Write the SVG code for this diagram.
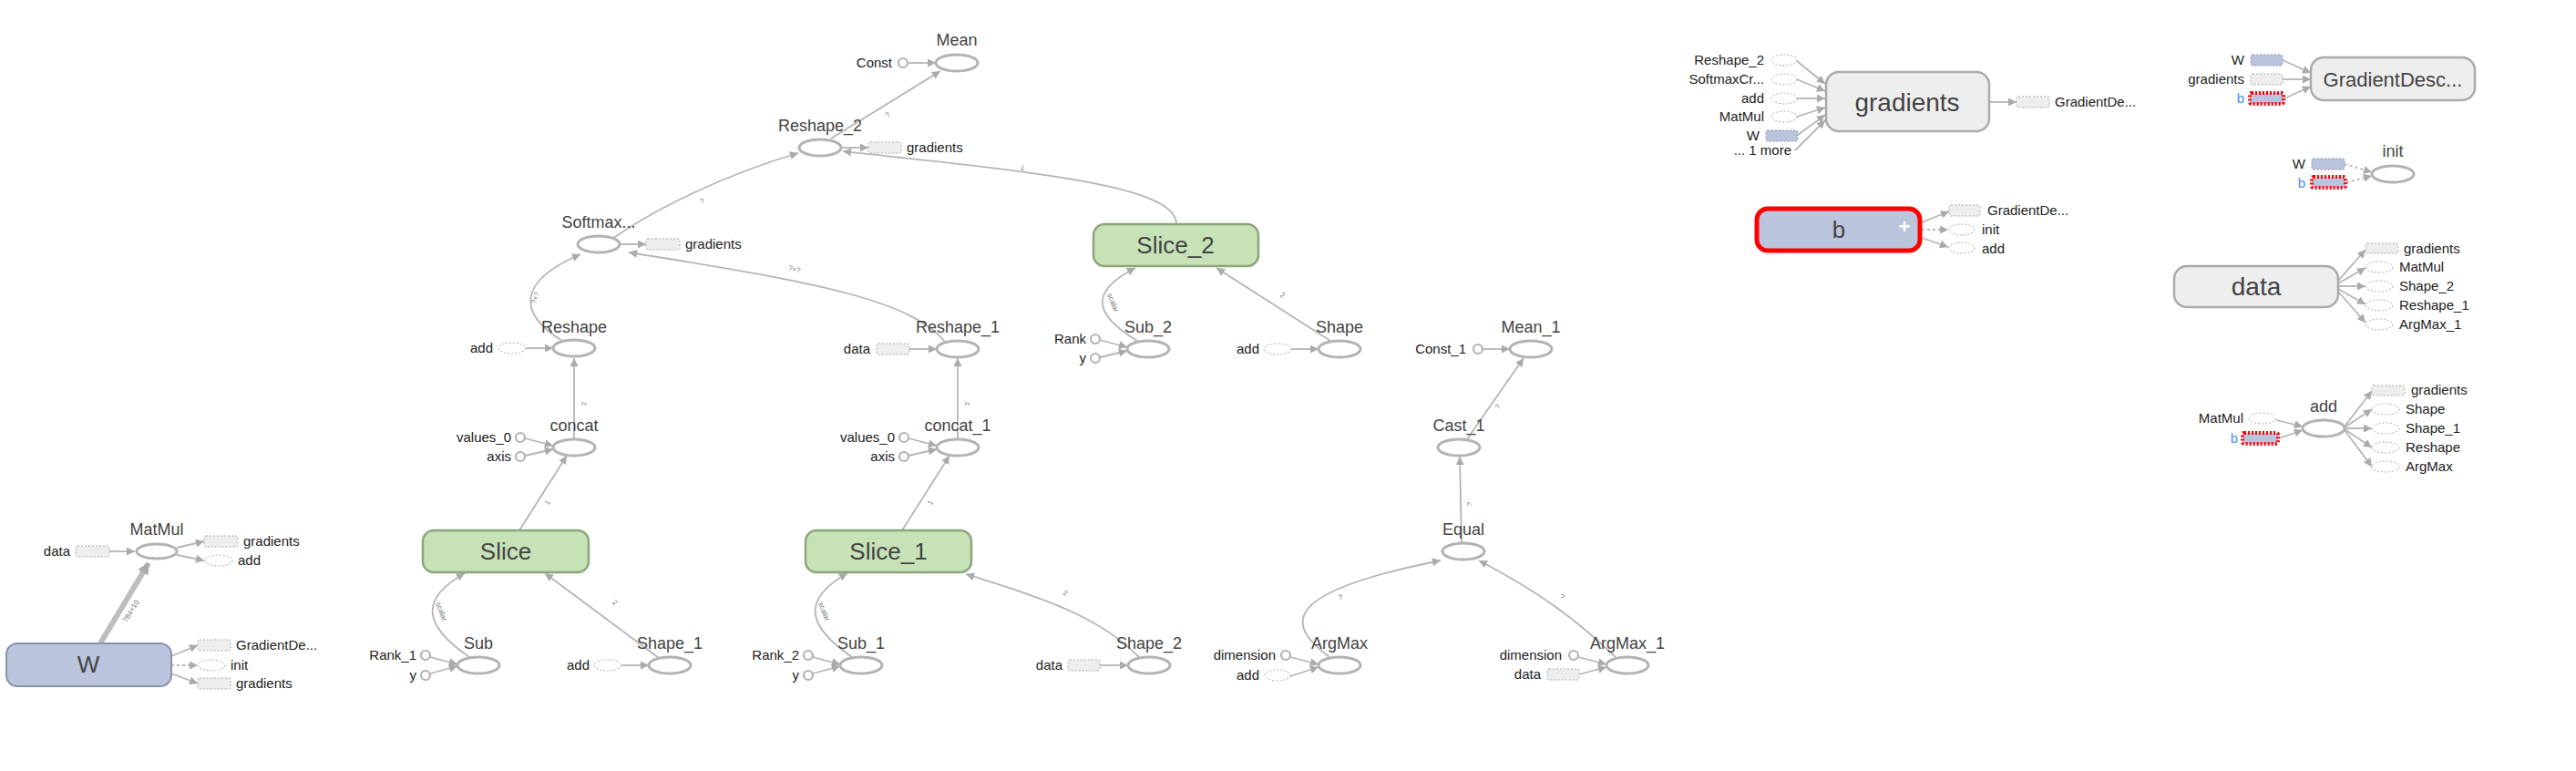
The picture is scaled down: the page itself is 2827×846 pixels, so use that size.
<svg xmlns="http://www.w3.org/2000/svg" width="2827" height="846" viewBox="0 0 2827 846">
<style>
text{font-family:"Liberation Sans",Arial,sans-serif}
.nl{font-size:18px;fill:#444;text-anchor:middle}
.bl{font-size:26px;fill:#444;text-anchor:middle}
.sl{font-size:15px;fill:#222}
.en{text-anchor:end}
.blue{fill:#4a8cf0}
.el{font-size:8px;fill:#777;text-anchor:middle}
.op{fill:#fff;stroke:#b3b3b3;stroke-width:3}
.ref{fill:#fff;stroke:#aaa;stroke-width:1;stroke-dasharray:2,2}
.rbox{fill:#eee;stroke:#aaa;stroke-width:1;stroke-dasharray:2,2}
.vbox{fill:#bac4dd;stroke:#8b93a8;stroke-width:1;stroke-dasharray:2,2}
.rvbox{fill:#bac4dd;stroke:#f00;stroke-width:4;stroke-dasharray:2,2}
.cst{fill:#fff;stroke:#b3b3b3;stroke-width:2.2}
.var{fill:#bac4dd;stroke:#8b93a8;stroke-width:2}
.grp{fill:#c6e2b6;stroke:#8aa67a;stroke-width:2.5}
.meta{fill:#eee;stroke:#aaa;stroke-width:2.5}
.e{fill:none;stroke:#b5b5b5;stroke-width:1.8;marker-end:url(#ah)}
.d{fill:none;stroke:#b5b5b5;stroke-width:1.8;stroke-dasharray:3,3;marker-end:url(#ah)}
</style>
<defs>
<marker id="ah" viewBox="0 0 10 10" refX="10" refY="5" markerWidth="10" markerHeight="9" markerUnits="userSpaceOnUse" orient="auto"><path d="M0,0L10,5L0,10z" fill="#aaa"/></marker>
<marker id="ahb" viewBox="0 0 10 10" refX="9" refY="5" markerWidth="14" markerHeight="13" markerUnits="userSpaceOnUse" orient="auto"><path d="M0,0L10,5L0,10z" fill="#aaa"/></marker>
</defs>
<rect width="2827" height="846" fill="#fff"/>
<g id="edges">
<path class="e" d="M120,605L148,605"/>
<path d="M110,706L163,618" fill="none" stroke="#bdbdbd" stroke-width="6" marker-end="url(#ahb)"/>
<text class="el" transform="translate(146,672) rotate(-59)">784×10</text>
<path class="e" d="M194,601L224,594"/>
<path class="e" d="M194,609L224,615"/>
<path class="e" d="M188,720L217,708"/>
<path class="d" d="M188,730L217,730"/>
<path class="e" d="M188,739L217,750"/>
<path class="e" d="M515,721C470,690 455,660 510,629"/>
<text class="el" transform="translate(482,672) rotate(68)">scalar</text>
<path class="e" d="M472,721L502,729"/>
<path class="e" d="M472,739L502,731"/>
<path class="e" d="M682,730L712,730"/>
<path class="e" d="M723,722L598,629"/>
<text class="el" transform="translate(673,663) rotate(37)">2</text>
<path class="e" d="M570,582L622,500"/>
<text class="el" transform="translate(603,553) rotate(-57)">1</text>
<path class="e" d="M576,481L607,489"/>
<path class="e" d="M576,500L607,493"/>
<path class="e" d="M630,482L630,393"/>
<text class="el" transform="translate(643,443) rotate(-90)">2</text>
<path class="e" d="M577,382L607,382"/>
<path class="e" d="M617,374C570,345 565,310 637,279"/>
<text class="el" transform="translate(590,328) rotate(-70)">?×?</text>
<path class="e" d="M935,721C890,690 875,660 930,629"/>
<text class="el" transform="translate(902,672) rotate(68)">scalar</text>
<path class="e" d="M892,721L922,729"/>
<path class="e" d="M892,739L922,731"/>
<path class="e" d="M1207,730L1238,730"/>
<path class="e" d="M1250,721C1205,675 1140,655 1060,630"/>
<text class="el" transform="translate(1168,653) rotate(25)">2</text>
<path class="e" d="M990,582L1042,500"/>
<text class="el" transform="translate(1023,553) rotate(-57)">1</text>
<path class="e" d="M997,481L1028,489"/>
<path class="e" d="M997,500L1028,493"/>
<path class="e" d="M1051,482L1051,393"/>
<text class="el" transform="translate(1064,443) rotate(-90)">2</text>
<path class="e" d="M998,383L1028,383"/>
<path class="e" d="M1037,375C1000,330 900,310 690,277"/>
<text class="el" transform="translate(871,298) rotate(15)">?×?</text>
<path class="e" d="M680,268L709,268"/>
<path class="e" d="M672,262C720,228 800,190 876,168"/>
<text class="el" transform="translate(772,223) rotate(-30)">?</text>
<path class="e" d="M923,162L953,162"/>
<path class="e" d="M1291,246C1291,205 1150,190 925,166"/>
<text class="el" transform="translate(1123,181) rotate(190)">?</text>
<path class="e" d="M912,152L1032,78"/>
<text class="el" transform="translate(976,128) rotate(-40)">?</text>
<path class="e" d="M996,69L1027,69"/>
<path class="e" d="M1248,374C1200,345 1195,320 1246,294"/>
<text class="el" transform="translate(1219,333) rotate(68)">scalar</text>
<path class="e" d="M1207,373L1237,381"/>
<path class="e" d="M1207,392L1237,385"/>
<path class="e" d="M1417,383L1447,383"/>
<path class="e" d="M1460,374L1335,294"/>
<text class="el" transform="translate(1406,326) rotate(35)">2</text>
<path class="e" d="M1459,721C1410,685 1405,650 1581,615"/>
<text class="el" transform="translate(1472,658) rotate(-15)">?</text>
<path class="e" d="M1416,721L1447,729"/>
<path class="e" d="M1416,742L1447,732"/>
<path class="e" d="M1773,721C1730,680 1690,650 1623,615"/>
<text class="el" transform="translate(1713,657) rotate(30)">?</text>
<path class="e" d="M1732,721L1763,729"/>
<path class="e" d="M1733,740L1763,732"/>
<path class="e" d="M1604,597L1602,501"/>
<text class="el" transform="translate(1615,553) rotate(-90)">?</text>
<path class="e" d="M1610,482L1672,393"/>
<text class="el" transform="translate(1646,448) rotate(-55)">?</text>
<path class="e" d="M1627,383L1657,383"/>
<path class="e" d="M1972,67L2003,92"/>
<path class="e" d="M1972,87L2003,100"/>
<path class="e" d="M1972,108L2003,108"/>
<path class="e" d="M1972,128L2003,118"/>
<path class="e" d="M1973,148L2003,126"/>
<path class="e" d="M1970,165L2003,132"/>
<path class="e" d="M2183,112L2213,112"/>
<path class="e" d="M2109,244L2139,232"/>
<path class="d" d="M2109,252L2138,252"/>
<path class="e" d="M2109,261L2138,271"/>
<path class="e" d="M2505,66L2536,80"/>
<path class="e" d="M2505,87L2536,87"/>
<path class="e" d="M2507,108L2536,95"/>
<path class="d" d="M2573,180L2603,189"/>
<path class="d" d="M2575,200L2603,193"/>
<path class="e" d="M2566,308L2596,274"/>
<path class="e" d="M2566,311L2596,294"/>
<path class="e" d="M2566,314L2596,314"/>
<path class="e" d="M2566,317L2596,334"/>
<path class="e" d="M2566,320L2596,354"/>
<path class="e" d="M2498,461L2527,468"/>
<path class="e" d="M2501,481L2527,472"/>
<path class="e" d="M2573,468L2603,429"/>
<path class="e" d="M2573,469L2603,449"/>
<path class="e" d="M2573,470L2603,470"/>
<path class="e" d="M2573,471L2603,491"/>
<path class="e" d="M2573,472L2603,512"/>
</g>
<g id="MatMul">
<ellipse class="op" cx="172" cy="605" rx="22" ry="8"/>
<text class="nl" x="172" y="587">MatMul</text>
<text class="sl en" x="77" y="610">data</text>
<rect class="rbox" x="83" y="599" width="37" height="12" rx="2"/>
<rect class="rbox" x="224" y="588" width="37" height="12" rx="2"/>
<text class="sl" x="267" y="599">gradients</text>
<ellipse class="ref" cx="240" cy="615" rx="15" ry="6"/>
<text class="sl" x="261" y="620">add</text>
</g>
<g id="W">
<rect class="var" x="7" y="706" width="181" height="47" rx="12"/>
<text class="bl" x="97" y="738">W</text>
<rect class="rbox" x="217" y="702" width="36" height="12" rx="2"/>
<text class="sl" x="259" y="713">GradientDe...</text>
<ellipse class="ref" cx="232" cy="730" rx="15" ry="6"/>
<text class="sl" x="253" y="735">init</text>
<rect class="rbox" x="217" y="744" width="36" height="12" rx="2"/>
<text class="sl" x="259" y="755">gradients</text>
</g>
<g id="Slice">
<rect class="grp" x="464" y="582" width="182" height="46" rx="12"/>
<text class="bl" x="555" y="614">Slice</text>
</g>
<g id="Sub">
<ellipse class="op" cx="525" cy="730" rx="23" ry="9"/>
<text class="nl" x="525" y="712">Sub</text>
<circle class="cst" cx="467" cy="719" r="5"/>
<text class="sl en" x="457" y="724">Rank_1</text>
<circle class="cst" cx="467" cy="741" r="5"/>
<text class="sl en" x="457" y="746">y</text>
</g>
<g id="Shape_1">
<ellipse class="op" cx="735" cy="730" rx="23" ry="9"/>
<text class="nl" x="735" y="712">Shape_1</text>
<ellipse class="ref" cx="667" cy="730" rx="15" ry="6"/>
<text class="sl en" x="647" y="735">add</text>
</g>
<g id="concat">
<ellipse class="op" cx="630" cy="491" rx="23" ry="9"/>
<text class="nl" x="630" y="473">concat</text>
<circle class="cst" cx="571" cy="480" r="5"/>
<text class="sl en" x="561" y="485">values_0</text>
<circle class="cst" cx="571" cy="501" r="5"/>
<text class="sl en" x="561" y="506">axis</text>
</g>
<g id="Reshape">
<ellipse class="op" cx="630" cy="382" rx="23" ry="9"/>
<text class="nl" x="630" y="365">Reshape</text>
<ellipse class="ref" cx="562" cy="382" rx="15" ry="6"/>
<text class="sl en" x="541" y="387">add</text>
</g>
<g id="Softmax">
<ellipse class="op" cx="657" cy="268" rx="23" ry="9"/>
<text class="nl" x="657" y="250">Softmax...</text>
<rect class="rbox" x="709" y="262" width="37" height="12" rx="2"/>
<text class="sl" x="752" y="273">gradients</text>
</g>
<g id="Reshape_2">
<ellipse class="op" cx="900" cy="162" rx="23" ry="9"/>
<text class="nl" x="900" y="144">Reshape_2</text>
<rect class="rbox" x="953" y="156" width="36" height="12" rx="2"/>
<text class="sl" x="995" y="167">gradients</text>
</g>
<g id="Mean">
<ellipse class="op" cx="1050" cy="69" rx="23" ry="9"/>
<text class="nl" x="1050" y="50">Mean</text>
<circle class="cst" cx="991" cy="69" r="5"/>
<text class="sl en" x="979" y="74">Const</text>
</g>
<g id="Slice_1">
<rect class="grp" x="884" y="582" width="182" height="46" rx="12"/>
<text class="bl" x="975" y="614">Slice_1</text>
</g>
<g id="Sub_1">
<ellipse class="op" cx="945" cy="730" rx="23" ry="9"/>
<text class="nl" x="945" y="712">Sub_1</text>
<circle class="cst" cx="887" cy="719" r="5"/>
<text class="sl en" x="877" y="724">Rank_2</text>
<circle class="cst" cx="887" cy="741" r="5"/>
<text class="sl en" x="877" y="746">y</text>
</g>
<g id="Shape_2">
<ellipse class="op" cx="1261" cy="730" rx="23" ry="9"/>
<text class="nl" x="1261" y="712">Shape_2</text>
<rect class="rbox" x="1172" y="724" width="35" height="12" rx="2"/>
<text class="sl en" x="1166" y="735">data</text>
</g>
<g id="concat_1">
<ellipse class="op" cx="1051" cy="491" rx="23" ry="9"/>
<text class="nl" x="1051" y="473">concat_1</text>
<circle class="cst" cx="992" cy="480" r="5"/>
<text class="sl en" x="982" y="485">values_0</text>
<circle class="cst" cx="992" cy="501" r="5"/>
<text class="sl en" x="982" y="506">axis</text>
</g>
<g id="Reshape_1">
<ellipse class="op" cx="1051" cy="383" rx="23" ry="9"/>
<text class="nl" x="1051" y="365">Reshape_1</text>
<rect class="rbox" x="962" y="377" width="36" height="12" rx="2"/>
<text class="sl en" x="955" y="388">data</text>
</g>
<g id="Slice_2">
<rect class="grp" x="1200" y="246" width="181" height="46" rx="12"/>
<text class="bl" x="1290" y="278">Slice_2</text>
</g>
<g id="Sub_2">
<ellipse class="op" cx="1260" cy="383" rx="23" ry="9"/>
<text class="nl" x="1260" y="365">Sub_2</text>
<circle class="cst" cx="1202" cy="372" r="5"/>
<text class="sl en" x="1192" y="377">Rank</text>
<circle class="cst" cx="1202" cy="393" r="5"/>
<text class="sl en" x="1192" y="398">y</text>
</g>
<g id="Shape">
<ellipse class="op" cx="1470" cy="383" rx="23" ry="9"/>
<text class="nl" x="1470" y="365">Shape</text>
<ellipse class="ref" cx="1402" cy="383" rx="15" ry="6"/>
<text class="sl en" x="1382" y="388">add</text>
</g>
<g id="ArgMax">
<ellipse class="op" cx="1470" cy="730" rx="23" ry="9"/>
<text class="nl" x="1470" y="712">ArgMax</text>
<circle class="cst" cx="1411" cy="719" r="5"/>
<text class="sl en" x="1400" y="724">dimension</text>
<ellipse class="ref" cx="1402" cy="741" rx="14" ry="6"/>
<text class="sl en" x="1382" y="746">add</text>
</g>
<g id="Equal">
<ellipse class="op" cx="1606" cy="605" rx="23" ry="9"/>
<text class="nl" x="1606" y="587">Equal</text>
</g>
<g id="ArgMax_1">
<ellipse class="op" cx="1786" cy="730" rx="23" ry="9"/>
<text class="nl" x="1786" y="712">ArgMax_1</text>
<circle class="cst" cx="1727" cy="719" r="5"/>
<text class="sl en" x="1714" y="724">dimension</text>
<rect class="rbox" x="1698" y="734" width="35" height="12" rx="2"/>
<text class="sl en" x="1691" y="745">data</text>
</g>
<g id="Cast_1">
<ellipse class="op" cx="1601" cy="491" rx="23" ry="9"/>
<text class="nl" x="1601" y="473">Cast_1</text>
</g>
<g id="Mean_1">
<ellipse class="op" cx="1680" cy="383" rx="23" ry="9"/>
<text class="nl" x="1680" y="365">Mean_1</text>
<circle class="cst" cx="1622" cy="383" r="5"/>
<text class="sl en" x="1609" y="388">Const_1</text>
</g>
<g id="gradients">
<rect class="meta" x="2004" y="79" width="179" height="65" rx="14"/>
<text class="bl" x="2093" y="122" style="font-size:28px">gradients</text>
<ellipse class="ref" cx="1958" cy="66" rx="14" ry="6"/>
<text class="sl en" x="1936" y="71">Reshape_2</text>
<ellipse class="ref" cx="1958" cy="87" rx="14" ry="6"/>
<text class="sl en" x="1936" y="92">SoftmaxCr...</text>
<ellipse class="ref" cx="1958" cy="108" rx="14" ry="6"/>
<text class="sl en" x="1936" y="113">add</text>
<ellipse class="ref" cx="1958" cy="128" rx="14" ry="6"/>
<text class="sl en" x="1936" y="133">MatMul</text>
<rect class="vbox" x="1938" y="143" width="35" height="12" rx="2"/>
<text class="sl en" x="1931" y="154">W</text>
<text class="sl en" x="1966" y="170">... 1 more</text>
<rect class="rbox" x="2213" y="106" width="36" height="12" rx="2"/>
<text class="sl" x="2255" y="117">GradientDe...</text>
</g>
<g id="b">
<rect class="var" x="1928" y="229" width="179" height="46" rx="12" style="stroke:#f00;stroke-width:5"/>
<text class="bl" x="2018" y="261">b</text>
<text x="2090" y="256" style="font-size:22px;fill:#fff;font-weight:bold;text-anchor:middle">+</text>
<rect class="rbox" x="2139" y="225" width="34" height="12" rx="2"/>
<text class="sl" x="2181" y="236">GradientDe...</text>
<ellipse class="ref" cx="2153" cy="252" rx="14" ry="6"/>
<text class="sl" x="2175" y="257">init</text>
<ellipse class="ref" cx="2153" cy="272" rx="14" ry="6"/>
<text class="sl" x="2175" y="278">add</text>
</g>
<g id="GradientDescent">
<rect class="meta" x="2536" y="63" width="180" height="47" rx="14"/>
<text class="bl" x="2626" y="95" style="font-size:22px">GradientDesc...</text>
<rect class="vbox" x="2470" y="60" width="35" height="12" rx="2"/>
<text class="sl en" x="2463" y="71">W</text>
<rect class="rbox" x="2470" y="81" width="35" height="12" rx="2"/>
<text class="sl en" x="2463" y="92">gradients</text>
<rect class="rvbox" x="2469" y="102" width="37" height="12" rx="2"/>
<text class="sl en blue" x="2463" y="113">b</text>
</g>
<g id="init">
<ellipse class="op" cx="2626" cy="191" rx="23" ry="9"/>
<text class="nl" x="2626" y="172">init</text>
<rect class="vbox" x="2537" y="174" width="36" height="12" rx="2"/>
<text class="sl en" x="2530" y="185">W</text>
<rect class="rvbox" x="2537" y="194" width="37" height="12" rx="2"/>
<text class="sl en blue" x="2530" y="206">b</text>
</g>
<g id="data">
<rect class="meta" x="2386" y="292" width="180" height="45" rx="14"/>
<text class="bl" x="2476" y="324" style="font-size:28px">data</text>
<rect class="rbox" x="2596" y="267" width="36" height="11" rx="2"/>
<text class="sl" x="2638" y="278">gradients</text>
<ellipse class="ref" cx="2611" cy="293" rx="15" ry="6"/>
<text class="sl" x="2633" y="298">MatMul</text>
<ellipse class="ref" cx="2611" cy="314" rx="15" ry="6"/>
<text class="sl" x="2633" y="319">Shape_2</text>
<ellipse class="ref" cx="2611" cy="335" rx="15" ry="6"/>
<text class="sl" x="2633" y="340">Reshape_1</text>
<ellipse class="ref" cx="2611" cy="356" rx="15" ry="6"/>
<text class="sl" x="2633" y="361">ArgMax_1</text>
</g>
<g id="add">
<ellipse class="op" cx="2550" cy="470" rx="23" ry="9"/>
<text class="nl" x="2550" y="452">add</text>
<ellipse class="ref" cx="2483" cy="459" rx="15" ry="6"/>
<text class="sl en" x="2462" y="464">MatMul</text>
<rect class="rvbox" x="2461" y="475" width="39" height="12" rx="2"/>
<text class="sl en blue" x="2456" y="486">b</text>
<rect class="rbox" x="2603" y="423" width="36" height="11" rx="2"/>
<text class="sl" x="2646" y="433">gradients</text>
<ellipse class="ref" cx="2618" cy="449" rx="15" ry="6"/>
<text class="sl" x="2640" y="454">Shape</text>
<ellipse class="ref" cx="2618" cy="470" rx="15" ry="6"/>
<text class="sl" x="2640" y="475">Shape_1</text>
<ellipse class="ref" cx="2618" cy="491" rx="15" ry="6"/>
<text class="sl" x="2640" y="496">Reshape</text>
<ellipse class="ref" cx="2618" cy="512" rx="15" ry="6"/>
<text class="sl" x="2640" y="517">ArgMax</text>
</g>
</svg>
